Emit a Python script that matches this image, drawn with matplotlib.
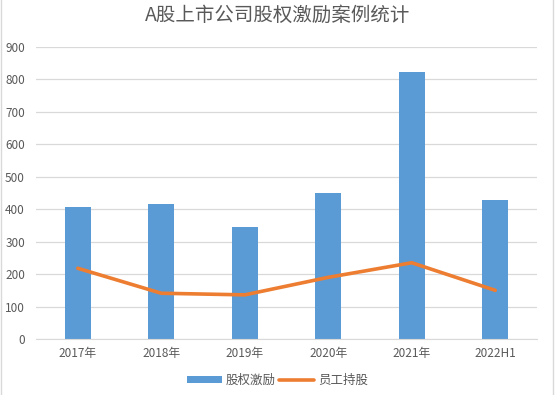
import matplotlib
matplotlib.use('Agg')
import matplotlib.pyplot as plt
from matplotlib.lines import Line2D
import numpy as np

plt.rcParams['font.family'] = ['Noto Sans CJK SC', 'DejaVu Sans']

# data
years = ['2017年', '2018年', '2019年', '2020年', '2021年', '2022H1']
equity_incentive = [408, 417, 346, 451, 824, 429]   # 股权激励
employee_shares = [218, 141, 136, 190, 235, 150]    # 员工持股

text_color = '#595959'

fig = plt.figure(figsize=(5.55, 3.95), dpi=100)
ax = fig.add_axes([0.0649, 0.1418, 0.9027, 0.7392])

x = np.arange(len(years))
bars = ax.bar(x, equity_incentive, width=0.31, color='#5B9BD5', label='股权激励', zorder=2)
line, = ax.plot(x, employee_shares, color='#ED7D31', linewidth=2.6, label='员工持股', zorder=3,
                solid_capstyle='round')

ax.set_xlim(-0.5, len(years) - 0.5)
ax.set_ylim(0, 900)
ax.set_yticks(range(0, 1000, 100))
ax.set_xticks(x)
ax.set_xticklabels(years)
ax.tick_params(axis='both', length=0, labelsize=8.5, labelcolor=text_color)
ax.tick_params(axis='x', pad=6)
ax.tick_params(axis='y', pad=8)
ax.grid(axis='y', color='#D9D9D9', linewidth=0.9, zorder=0)
for side in ['top', 'right', 'left']:
    ax.spines[side].set_visible(False)
ax.spines['bottom'].set_color('#D9D9D9')

fig.suptitle('A股上市公司股权激励案例统计', y=0.988, fontsize=14, color=text_color)

fig.legend([bars, line], ['股权激励', '员工持股'], loc='center', bbox_to_anchor=(0.5, 0.036),
           ncol=2, frameon=False, fontsize=9, labelcolor=text_color,
           handlelength=2.8, handleheight=0.5, handletextpad=0.3, columnspacing=0.3)

# thin frame lines at the screenshot edges
fig.add_artist(Line2D([0.002, 0.002], [0, 1], color='#D9D9D9', linewidth=1))
fig.add_artist(Line2D([0.997, 0.997], [0, 1], color='#D9D9D9', linewidth=1))

fig.savefig('out.png', dpi=100)
